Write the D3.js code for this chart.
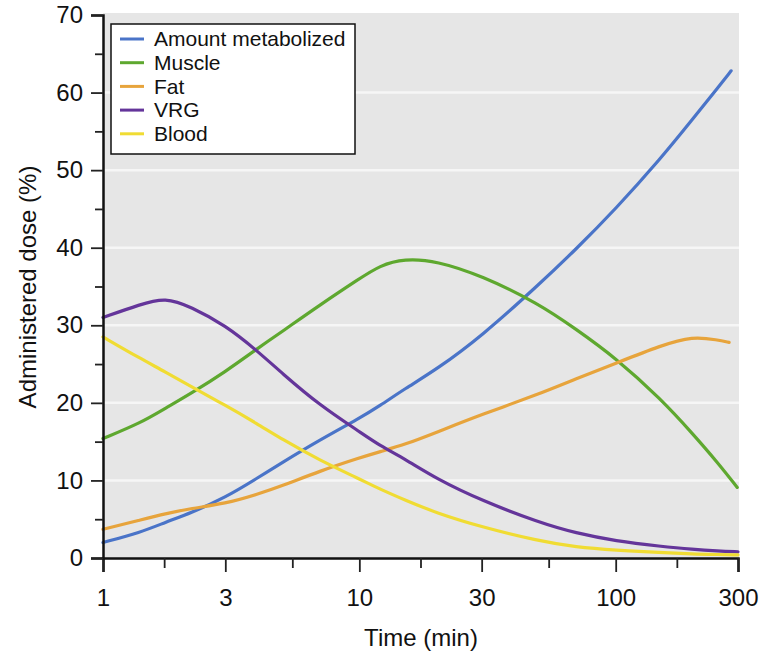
<!DOCTYPE html>
<html>
  <head>
    <title>Administered dose over time</title>
    <script src="https://d3js.org/d3.v7.min.js"></script>
    <style>
      body { margin: 0; background: #fff; }
      text { font-family: "Liberation Sans", Arial, sans-serif; fill: #111; }
    </style>
  </head>
  <body>
    <div id="chart"></div>
    <script>
      // shared sample times (min); each series then has its own last point
      const times = [1, 1.4, 1.75, 2.2, 3, 4, 5, 7, 10, 12, 15, 20, 30, 50, 70, 100, 150, 200, 250];

      const seriesNames = ["Amount metabolized", "Muscle", "Fat", "VRG", "Blood"];
      const seriesColors = ["#4a74c8", "#5ea82f", "#e7a43c", "#64359a", "#f0dc33"];
      const endTimes = [282, 298, 277, 300, 300];

      const metabolized = [2.0, 3.3, 4.6, 5.8, 7.8, 10.3, 12.3, 15.2, 18.0, 19.6, 21.8, 24.3, 28.6, 35.2, 39.8, 45.0, 51.5, 56.6, 60.6, 62.8];
      const muscle = [15.4, 17.4, 19.3, 21.2, 24.0, 27.0, 29.2, 32.6, 36.0, 37.7, 38.6, 38.3, 36.4, 32.8, 29.5, 25.8, 20.5, 16.0, 12.3, 9.1];
      const fat = [3.7, 4.9, 5.7, 6.4, 7.0, 8.2, 9.3, 11.2, 12.9, 13.7, 14.6, 16.2, 18.5, 21.1, 23.1, 25.1, 27.4, 28.6, 28.1, 27.8];
      const vrg = [31.0, 32.7, 33.6, 32.4, 30.0, 26.7, 23.8, 19.7, 16.3, 14.5, 12.8, 10.2, 7.4, 4.6, 3.2, 2.2, 1.5, 1.1, 0.9, 0.8];
      const blood = [28.5, 25.7, 24.0, 22.1, 19.7, 17.3, 15.3, 12.6, 10.2, 8.9, 7.5, 5.8, 4.0, 2.2, 1.4, 1.0, 0.7, 0.5, 0.45, 0.4];

      const seriesValues = [metabolized, muscle, fat, vrg, blood];

      const xMajor = [1, 3, 10, 30, 100, 300];
      const xMinor = [1.732, 5.477, 17.32, 54.77, 173.2];
      const yMajor = [0, 10, 20, 30, 40, 50, 60, 70];
      const yMinor = [5, 15, 25, 35, 45, 55, 65];
      const gridValues = [10, 20, 30, 40, 50, 60];

      const width = 759;
      const height = 656;

      const svg = d3.select("#chart")
        .append("svg")
        .attr("width", width)
        .attr("height", height);

      const x = d3.scaleLog()
        .domain([1, 300])
        .range([103, 738]);

      const y = d3.scaleLinear()
        .domain([0, 70])
        .range([558, 15]);

      // plot background
      svg.append("rect")
        .attr("x", x(1))
        .attr("y", y(70) - 2)
        .attr("width", x(300) - x(1) + 1)
        .attr("height", y(0) - y(70) + 2)
        .attr("fill", "#e6e6e6");

      svg.selectAll(".grid")
        .data(gridValues)
        .enter()
        .append("line")
        .attr("x1", x(1))
        .attr("x2", x(300) + 1)
        .attr("y1", d => y(d))
        .attr("y2", d => y(d))
        .attr("stroke", "#f6f6f6")
        .attr("stroke-width", 2.5);

      // lines
      const line = d3.line()
        .x(d => x(d[0]))
        .y(d => y(d[1]))
        .curve(d3.curveBasis);

      seriesValues.forEach(function (vals, i) {
        const pts = vals.map((v, j) => [j < times.length ? times[j] : endTimes[i], v]);
        svg.append("path")
          .datum(pts)
          .attr("fill", "none")
          .attr("stroke", seriesColors[i])
          .attr("stroke-width", 3.2)
          .attr("stroke-linecap", "round")
          .attr("d", line);
      });

      // axes
      svg.append("g")
        .attr("transform", "translate(0," + y(0) + ")")
        .call(d3.axisBottom(x).tickValues(xMajor).tickFormat(d3.format("d")).tickSize(14).tickPadding(17));
      svg.append("g")
        .attr("transform", "translate(0," + y(0) + ")")
        .call(d3.axisBottom(x).tickValues(xMinor).tickFormat("").tickSize(10))
        .select(".domain").remove();

      svg.append("g")
        .attr("transform", "translate(" + x(1) + ",0)")
        .call(d3.axisLeft(y).tickValues(yMajor).tickSize(12).tickPadding(8));
      svg.append("g")
        .attr("transform", "translate(" + x(1) + ",0)")
        .call(d3.axisLeft(y).tickValues(yMinor).tickFormat("").tickSize(8))
        .select(".domain").remove();

      svg.selectAll(".domain").attr("stroke", "#111").attr("stroke-width", 2.5);
      svg.selectAll(".tick line").attr("stroke", "#222").attr("stroke-width", 1.8);
      svg.selectAll(".tick text")
        .style("font-size", "24px")
        .style("font-family", "'Liberation Sans', Arial, sans-serif")
        .attr("fill", "#111");

      // axis titles
      svg.append("text")
        .attr("x", 421)
        .attr("y", 646)
        .attr("text-anchor", "middle")
        .style("font-size", "24px")
        .text("Time (min)");

      svg.append("text")
        .attr("transform", "translate(36,287) rotate(-90)")
        .attr("text-anchor", "middle")
        .style("font-size", "24px")
        .text("Administered dose (%)");

      // legend
      const legend = svg.append("g");
      legend.append("rect")
        .attr("x", 111)
        .attr("y", 24)
        .attr("width", 244)
        .attr("height", 130)
        .attr("fill", "#fff")
        .attr("stroke", "#111")
        .attr("stroke-width", 1.5);

      const rows = legend.selectAll(".row")
        .data(seriesNames)
        .enter()
        .append("g")
        .attr("transform", (d, i) => "translate(0," + (39 + i * 23.7) + ")");

      rows.append("line")
        .attr("x1", 120)
        .attr("x2", 144)
        .attr("stroke", (d, i) => seriesColors[i])
        .attr("stroke-width", 3);

      rows.append("text")
        .attr("x", 154)
        .attr("dy", "0.35em")
        .style("font-size", "21px")
        .text(d => d);
    </script>
  </body>
</html>
